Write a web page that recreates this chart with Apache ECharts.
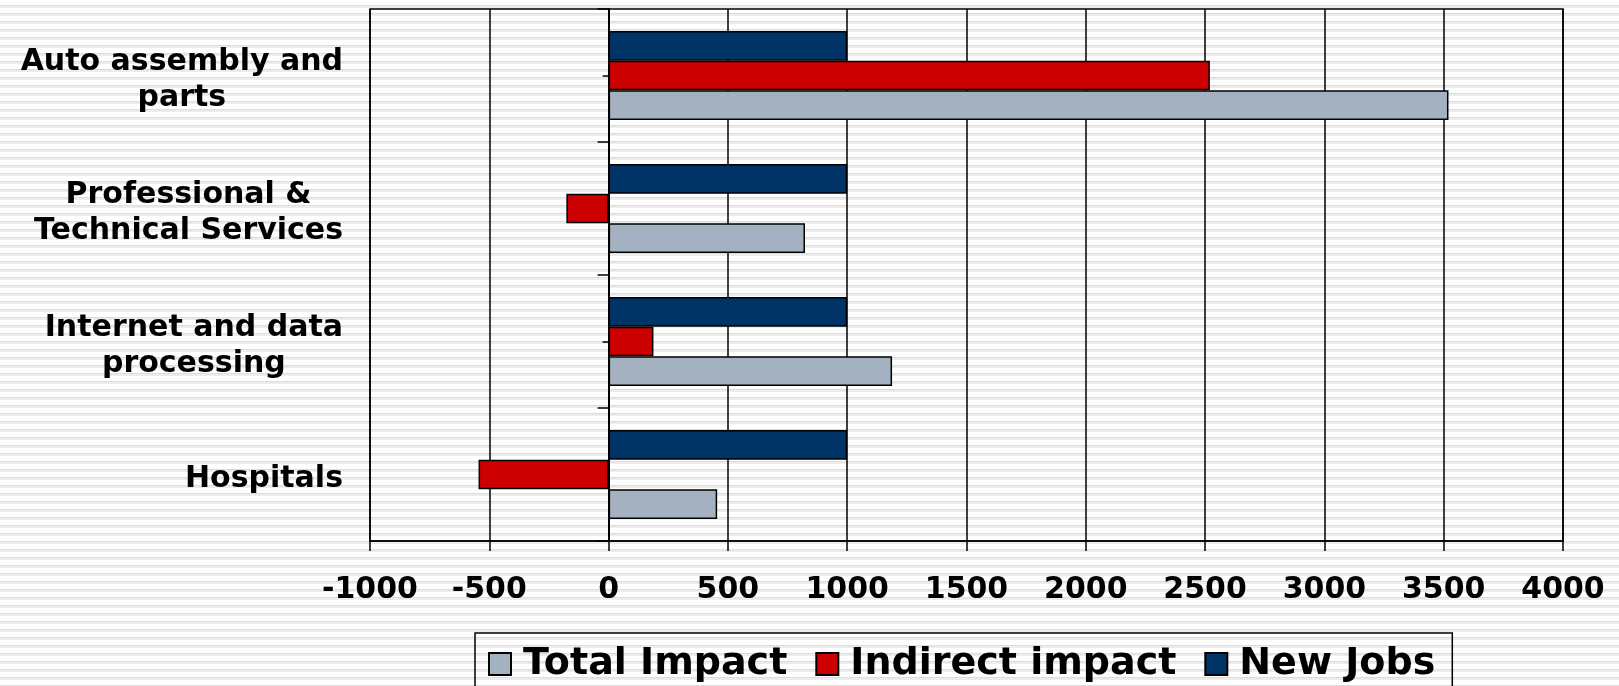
<!DOCTYPE html>
<html>
<head>
<meta charset="utf-8">
<script src="https://cdn.jsdelivr.net/npm/echarts@6/dist/echarts.min.js"></script>
<style>
  html, body { margin: 0; padding: 0; }
  body {
    width: 1619px; height: 686px; overflow: hidden;
    background: repeating-linear-gradient(180deg, #ffffff 0px, #ffffff 5px, #dcdcdc 5px, #dcdcdc 6.5px, #ececec 6.5px, #ececec 8px);
  }
  #chart { width: 1619px; height: 686px; }
</style>
</head>
<body>
<div id="chart"></div>
<script>
// Categories listed bottom-to-top (category axis runs upward)
const categories = [
  'Hospitals',
  'Internet and data\nprocessing',
  'Professional &\nTechnical Services',
  'Auto assembly and\nparts'
];
const seriesNames = ['Total Impact', 'Indirect impact', 'New Jobs'];
const totalImpact = [455, 1188, 823, 3520];
const indirectImpact = [-545, 188, -177, 2520];
const newJobs = [1000, 1000, 1000, 1000];
const xTicks = { min: -1000, max: 4000, interval: 500 };
const colors = ['#A3B1C1', '#CC0000', '#003366'];

const font = 'DejaVu Sans';
const chart = echarts.init(document.getElementById('chart'), null, { renderer: 'canvas' });

const barStyle = (c) => ({ color: c, borderColor: '#000', borderWidth: 1.5 });
const seriesData = [totalImpact, indirectImpact, newJobs];
// draw order: New Jobs on top, Total Impact at the bottom of each group
const drawOrder = [2, 1, 0];

const option = {
  backgroundColor: 'transparent',
  animation: false,
  grid: {
    left: 370, right: 56, top: 9, bottom: 145,
    show: true, borderColor: '#000', borderWidth: 1.5, backgroundColor: 'transparent',
    containLabel: false, outerBoundsMode: 'none'
  },
  legend: {
    data: seriesNames,
    left: 475, top: 633,
    orient: 'horizontal',
    icon: 'rect',
    itemWidth: 22, itemHeight: 22,
    itemGap: 28,
    padding: [12, 17, 12, 13],
    borderColor: '#000', borderWidth: 1.5,
    textStyle: { fontFamily: font, fontWeight: 'bold', fontSize: 38, color: '#000', padding: [0, 0, 0, 7] }
  },
  xAxis: {
    type: 'value',
    min: xTicks.min, max: xTicks.max, interval: xTicks.interval,
    axisLine: { show: true, onZero: false, lineStyle: { color: '#000', width: 1.5 } },
    axisTick: { show: true, length: 10, lineStyle: { color: '#000', width: 1.5 } },
    splitLine: { show: true, lineStyle: { color: '#000', width: 1.5 } },
    axisLabel: { margin: 34, fontFamily: font, fontWeight: 'bold', fontSize: 30, color: '#000',
      formatter: (v) => String(v) }
  },
  yAxis: [
    {
      type: 'category', data: categories, position: 'left',
      axisLine: { show: false, onZero: false },
      axisTick: { show: false },
      splitLine: { show: false },
      axisLabel: {
        margin: 27, color: '#000', padding: [10, 0, 0, 0],
        formatter: (v) => v.split('\n').map(s => '{c|' + s + '}').join('\n'),
        rich: { c: { align: 'center', fontFamily: font, fontWeight: 'bold', fontSize: 30, lineHeight: 36, color: '#000' } }
      }
    },
    {
      type: 'category', data: categories, position: 'left',
      axisLine: { show: true, onZero: true, onZeroAxisIndex: 0, lineStyle: { color: '#000', width: 2 } },
      axisTick: { show: true, length: 11, lineStyle: { color: '#000', width: 1.5 } },
      axisLabel: { show: false },
      splitLine: { show: false }
    },
    {
      type: 'category', data: categories, position: 'left',
      axisLine: { show: true, onZero: true, onZeroAxisIndex: 0, lineStyle: { color: '#000', width: 2 } },
      axisTick: { show: true, alignWithLabel: true, length: 6, lineStyle: { color: '#000', width: 1.5 } },
      axisLabel: { show: false },
      splitLine: { show: false }
    }
  ],
  series: drawOrder.map((i) => ({
    name: seriesNames[i],
    type: 'bar',
    data: seriesData[i],
    barGap: '0%',
    barCategoryGap: '33%',
    itemStyle: barStyle(colors[i])
  }))
};
chart.setOption(option);
</script>
</body>
</html>
